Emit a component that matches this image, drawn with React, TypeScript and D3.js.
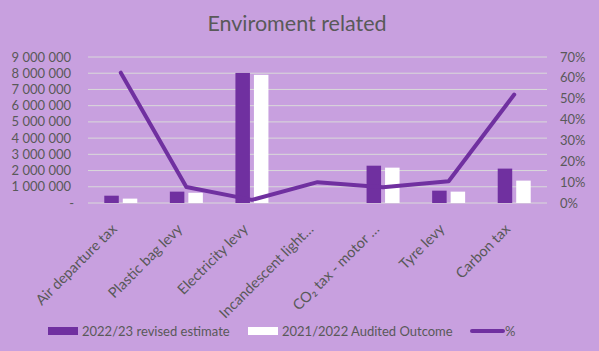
import React, { useEffect, useRef } from 'react';
import * as d3 from 'd3';

// Chart data
const categories = [
  'Air departure tax',
  'Plastic bag levy',
  'Electricity levy',
  'Incandescent light…',
  'CO₂ tax - motor …',
  'Tyre levy',
  'Carbon tax',
];
const estimate2223 = [450000, 700000, 8020000, 0, 2300000, 760000, 2120000];
const audited2122 = [270000, 630000, 7900000, 0, 2180000, 700000, 1380000];
const pct = [0.625, 0.077, 0.015, 0.1, 0.076, 0.104, 0.52];
const leftTicks = d3.range(0, 9000001, 1000000);
const rightTicks = d3.range(0, 0.7001, 0.1);

const BG = '#C8A0DF';
const PURPLE = '#7030A0';
const TEXT = '#595959';
const FONT = 'Lato, "Open Sans", sans-serif';

export default function App() {
  const svgRef = useRef<SVGSVGElement>(null);

  useEffect(() => {
    const width = 599;
    const height = 351;
    const margin = { top: 57, right: 52, bottom: 148, left: 88 };
    const innerW = width - margin.left - margin.right;
    const innerH = height - margin.top - margin.bottom;

    const svg = d3.select(svgRef.current).attr('width', width).attr('height', height);
    svg.selectAll('*').remove();

    svg.append('rect').attr('width', width).attr('height', height).attr('fill', BG);

    // Title
    svg.append('text').attr('x', 297).attr('y', 31).attr('text-anchor', 'middle')
      .attr('fill', TEXT).attr('font-size', '21.5px').attr('font-family', FONT)
      .text('Enviroment related');

    const g = svg.append('g').attr('transform', `translate(${margin.left},${margin.top})`);

    const x = d3.scaleBand<string>().domain(categories).range([0, innerW]);
    const yL = d3.scaleLinear().domain([0, 9000000]).range([innerH, 0]);
    const yR = d3.scaleLinear().domain([0, 0.7]).range([innerH, 0]);

    // Grid lines
    g.selectAll('.grid').data(leftTicks).join('line').attr('class', 'grid')
      .attr('x1', 0).attr('x2', innerW)
      .attr('y1', d => yL(d)).attr('y2', d => yL(d))
      .attr('stroke', '#D9D9D9').attr('stroke-width', 1);

    // Left axis labels
    const fmt = (v: number) => v === 0 ? '-' : d3.format(',')(v).replace(/,/g, ' ');
    g.selectAll('.ltick').data(leftTicks).join('text').attr('class', 'ltick')
      .attr('x', v => v === 0 ? -14 : -17).attr('y', d => yL(d) + 4.5)
      .attr('text-anchor', 'end').attr('fill', TEXT)
      .attr('font-size', '13px').attr('font-family', FONT)
      .text(fmt);

    // Right axis labels
    g.selectAll('.rtick').data(rightTicks).join('text').attr('class', 'rtick')
      .attr('x', innerW + 13).attr('y', d => yR(d) + 4.5)
      .attr('text-anchor', 'start').attr('fill', TEXT)
      .attr('font-size', '13px').attr('font-family', FONT)
      .text(d => d3.format('.0%')(d));

    // Bars
    const barW = 14.5;
    const gap = 4;
    const cx = (c: string) => (x(c) as number) + x.bandwidth() / 2;
    g.selectAll('.b1').data(categories).join('rect').attr('class', 'b1')
      .attr('x', c => cx(c) - gap / 2 - barW)
      .attr('width', barW)
      .attr('y', (c, i) => yL(estimate2223[i]))
      .attr('height', (c, i) => innerH - yL(estimate2223[i]))
      .attr('fill', PURPLE);
    g.selectAll('.b2').data(categories).join('rect').attr('class', 'b2')
      .attr('x', c => cx(c) + gap / 2)
      .attr('width', barW)
      .attr('y', (c, i) => yL(audited2122[i]))
      .attr('height', (c, i) => innerH - yL(audited2122[i]))
      .attr('fill', '#FFFFFF');

    // Percentage line
    const line = d3.line<number>()
      .x((d, i) => cx(categories[i]))
      .y(d => yR(d));
    g.append('path').datum(pct).attr('d', line)
      .attr('fill', 'none').attr('stroke', PURPLE).attr('stroke-width', 4)
      .attr('stroke-linejoin', 'round').attr('stroke-linecap', 'round');

    // Category labels
    g.selectAll('.cat').data(categories).join('text').attr('class', 'cat')
      .attr('transform', c => `translate(${cx(c) - 3},${innerH + 27}) rotate(-45)`)
      .attr('text-anchor', 'end').attr('fill', TEXT)
      .attr('font-size', '14.5px').attr('font-family', FONT)
      .text(c => c);

    // Legend
    const ly = 331;
    const leg = svg.append('g').attr('font-family', FONT).attr('font-size', '13px').attr('fill', TEXT);
    leg.append('rect').attr('x', 48).attr('y', ly - 4).attr('width', 30).attr('height', 8).attr('fill', PURPLE);
    leg.append('text').attr('x', 82).attr('y', ly + 4.5).text('2022/23 revised estimate');
    leg.append('rect').attr('x', 248).attr('y', ly - 4).attr('width', 30).attr('height', 8).attr('fill', '#FFFFFF');
    leg.append('text').attr('x', 282).attr('y', ly + 4.5).text('2021/2022 Audited Outcome');
    leg.append('line').attr('x1', 472).attr('x2', 503).attr('y1', ly).attr('y2', ly)
      .attr('stroke', PURPLE).attr('stroke-width', 4).attr('stroke-linecap', 'round');
    leg.append('text').attr('x', 505).attr('y', ly + 4.5).text('%');
  }, []);

  return (
    <div style={{ position: 'absolute', left: 0, top: 0 }}>
      <svg ref={svgRef} style={{ display: 'block' }} />
    </div>
  );
}
